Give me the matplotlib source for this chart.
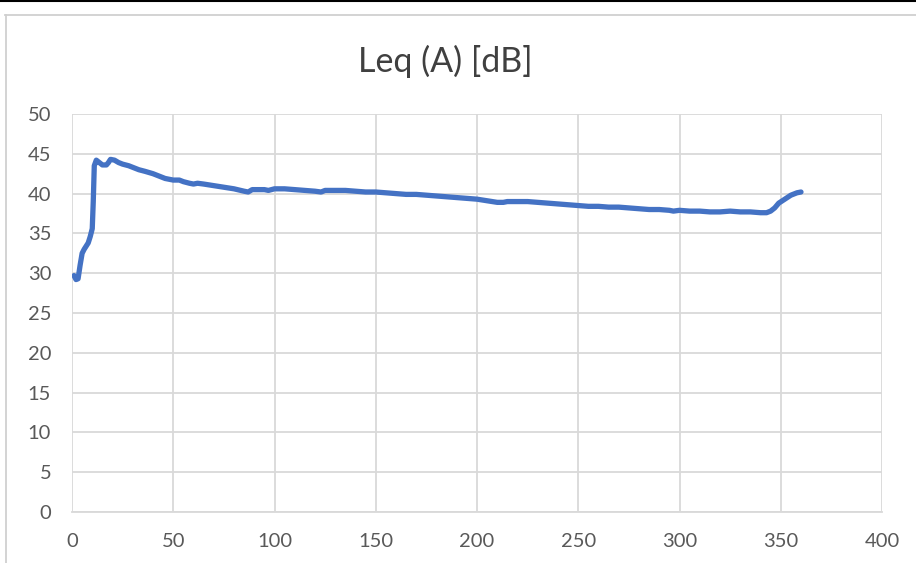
import matplotlib.pyplot as plt
from matplotlib.lines import Line2D

plt.rcParams['font.family'] = ['Lato', 'DejaVu Sans']

# time (x) and Leq values
t = [1, 2, 3, 4, 5, 6, 8, 9, 10, 10.5, 11, 12, 13, 15, 17, 18, 19, 21, 23, 25,
     28, 30, 33, 36, 40, 43, 46, 50, 53, 55, 58, 60, 62, 65, 70, 75, 80, 85, 87,
     89, 92, 95, 97, 100, 105, 110, 115, 120, 123, 125, 130, 135, 140, 145, 150,
     155, 160, 165, 170, 175, 180, 185, 190, 195, 200, 205, 210, 213, 215, 220,
     225, 230, 235, 240, 245, 250, 255, 260, 265, 270, 275, 280, 285, 290, 295,
     297, 300, 305, 310, 315, 320, 325, 330, 335, 340, 343, 345, 347, 349, 352,
     355, 358, 360]
leq = [29.7, 29.2, 29.3, 31.0, 32.5, 33.0, 33.8, 34.6, 35.6, 39.0, 43.5, 44.2,
       44.0, 43.6, 43.6, 43.9, 44.3, 44.2, 43.9, 43.7, 43.5, 43.3, 43.0, 42.8,
       42.5, 42.2, 41.9, 41.7, 41.7, 41.5, 41.3, 41.2, 41.3, 41.2, 41.0, 40.8,
       40.6, 40.3, 40.2, 40.5, 40.5, 40.5, 40.4, 40.6, 40.6, 40.5, 40.4, 40.3,
       40.2, 40.4, 40.4, 40.4, 40.3, 40.2, 40.2, 40.1, 40.0, 39.9, 39.9, 39.8,
       39.7, 39.6, 39.5, 39.4, 39.3, 39.1, 38.9, 38.9, 39.0, 39.0, 39.0, 38.9,
       38.8, 38.7, 38.6, 38.5, 38.4, 38.4, 38.3, 38.3, 38.2, 38.1, 38.0, 38.0,
       37.9, 37.8, 37.9, 37.8, 37.8, 37.7, 37.7, 37.8, 37.7, 37.7, 37.6, 37.6,
       37.8, 38.2, 38.8, 39.3, 39.8, 40.1, 40.2]

xticks = list(range(0, 401, 50))
yticks = list(range(0, 51, 5))

fig = plt.figure(figsize=(9.16, 5.63), dpi=100)
ax = fig.add_axes([72/916, 51/563, 810/916, 398/563])

ax.plot(t, leq, color='#4472C4', linewidth=3.8, solid_capstyle='round',
        solid_joinstyle='round')

ax.set_xlim(0, 400)
ax.set_ylim(0, 50)
ax.set_xticks(xticks)
ax.set_yticks(yticks)
ax.grid(True, color='#D9D9D9', linewidth=1.3)
ax.set_axisbelow(True)
for s in ['top', 'right', 'left']:
    ax.spines[s].set_visible(False)
ax.spines['bottom'].set_color('#D9D9D9')
ax.spines['bottom'].set_linewidth(1.3)
ax.tick_params(length=0, labelsize=14.5, colors='#595959')
ax.tick_params(axis='x', pad=15)
ax.tick_params(axis='y', pad=15)

fig.text(445/916, 1 - 61/563, 'Leq (A) [dB]', ha='center', va='center',
         fontsize=24.5, color='#404040')

# chart border and top black rule
fig.add_artist(Line2D([5/916, 1], [1 - 14.5/563] * 2, color='#D0D0D0', linewidth=1.3))
fig.add_artist(Line2D([5.5/916] * 2, [0, 1 - 14.5/563], color='#D0D0D0', linewidth=1.3))
fig.add_artist(Line2D([0, 1], [1 - 0.8/563] * 2, color='black', linewidth=1.5))

fig.savefig('out.png', dpi=100)
